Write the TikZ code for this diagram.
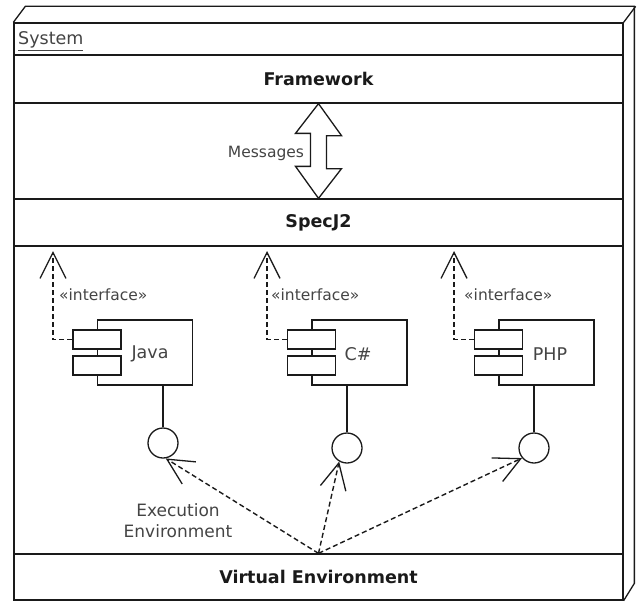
\documentclass[tikz,border=0pt]{standalone}
\usepackage{fontspec}
\setmainfont{DejaVu Sans}
\usetikzlibrary{arrows.meta,calc}

\definecolor{ink}{HTML}{1A1A1A}
\definecolor{lbl}{HTML}{444444}

\tikzset{
  line/.style={line width=1.3pt, draw=ink},
  band/.style={line, minimum width=609pt, minimum height=#1, inner sep=0pt,
    font=\bfseries\fontsize{17.5}{20}\selectfont, text=ink},
  comp/.style={line, fill=white, minimum width=95pt, minimum height=65pt, inner sep=0pt},
  port/.style={line, fill=white, minimum width=48pt, minimum height=19pt, inner sep=0pt},
  ball/.style={line, fill=white, circle, minimum size=30pt, inner sep=0pt},
  txt/.style={inner sep=0pt, text=lbl, font=\fontsize{#1}{#1}\selectfont},
  dep/.style={line, line width=1.4pt, dash pattern=on 5pt off 3pt,
    -{Straight Barb[length=26pt, width=26pt, line width=1.3pt]}},
}

\begin{document}
\begin{tikzpicture}[x=1pt, y=-1pt]
\useasboundingbox (0,0) rectangle (639,602);

% 3D node: front face and the two receding faces
\node[line, minimum width=609pt, minimum height=577pt, inner sep=0pt] (sys) at (318.5,311.5) {};
\draw[line, line join=miter] (sys.north west) -- ++(12,-16) -- ++(609,0) -- ++(0,577) -- (sys.south east);
\draw[line] (sys.north east) -- ++(12,-16);

% Name of the node
\node[txt=17.5, anchor=west] (sysname) at (18,41) {\underline{System}};

% Horizontal bands
\node[band=32pt] (sysband) at (318.5,39) {};
\node[band=48pt] (framework) at (318.5,79) {Framework};
\node[band=47pt] (specj2) at (318.5,222.5) {SpecJ2};
\node[band=46pt] (venv) at (318.5,577) {Virtual Environment};

% Messages: hollow double arrow between the two bands
\draw[line, fill=white, line join=miter] (framework.south) -- ++(23,32) -- ++(-15,0) -- ++(0,33)
  -- ++(15,0) -- (specj2.north) -- ++(-23,-32) -- ++(15,0) -- ++(0,-33) -- ++(-15,0) -- cycle;
\node[txt=15.5] (msg) at (266,153) {Messages};

% Components
\node[comp] (java) at (145,352.5) {};
\node[port] (javap1) at (java.west |- 0,339.5) {};
\node[port] (javap2) at (java.west |- 0,365.5) {};
\node[txt=17.5] (javatxt) at (150,354) {Java};

\node[comp] (cs) at (359.5,352.5) {};
\node[port] (csp1) at (cs.west |- 0,339.5) {};
\node[port] (csp2) at (cs.west |- 0,365.5) {};
\node[txt=17.5] (cstxt) at (358,354) {C\#};

\node[comp] (php) at (546.5,352.5) {};
\node[port] (phpp1) at (php.west |- 0,339.5) {};
\node[port] (phpp2) at (php.west |- 0,365.5) {};
\node[txt=17.5] (phptxt) at (550,354) {PHP};

% Interface realisations up to SpecJ2
\coordinate (jtop) at (53,251);
\coordinate (ctop) at (267,251);
\coordinate (ptop) at (454,251);
\draw[dep] (javap1.west) -| (jtop);
\draw[dep] (csp1.west) -| (ctop);
\draw[dep] (phpp1.west) -| (ptop);
\node[txt=15.5, anchor=west] (jint) at (59,295) {«interface»};
\node[txt=15.5, anchor=west] (cint) at (271,295) {«interface»};
\node[txt=15.5, anchor=west] (pint) at (464,295) {«interface»};

% Provided interfaces (lollipops)
\node[ball] (jball) at (163,443) {};
\node[ball] (cball) at (347,448) {};
\node[ball] (pball) at (534,448) {};
\draw[line] (jball.north) -- (jball.north |- java.south);
\draw[line] (cball.north) -- (cball.north |- cs.south);
\draw[line] (pball.north) -- (pball.north |- php.south);

% Execution environment dependencies
\draw[dep] (venv.north) -- (jball.280);
\draw[dep] (venv.north) -- (cball.240);
\draw[dep] (venv.north) -- (pball.220);
\node[txt=17, align=center] (exec) at (178,521) {Execution\\[4pt]Environment};

\end{tikzpicture}
\end{document}
